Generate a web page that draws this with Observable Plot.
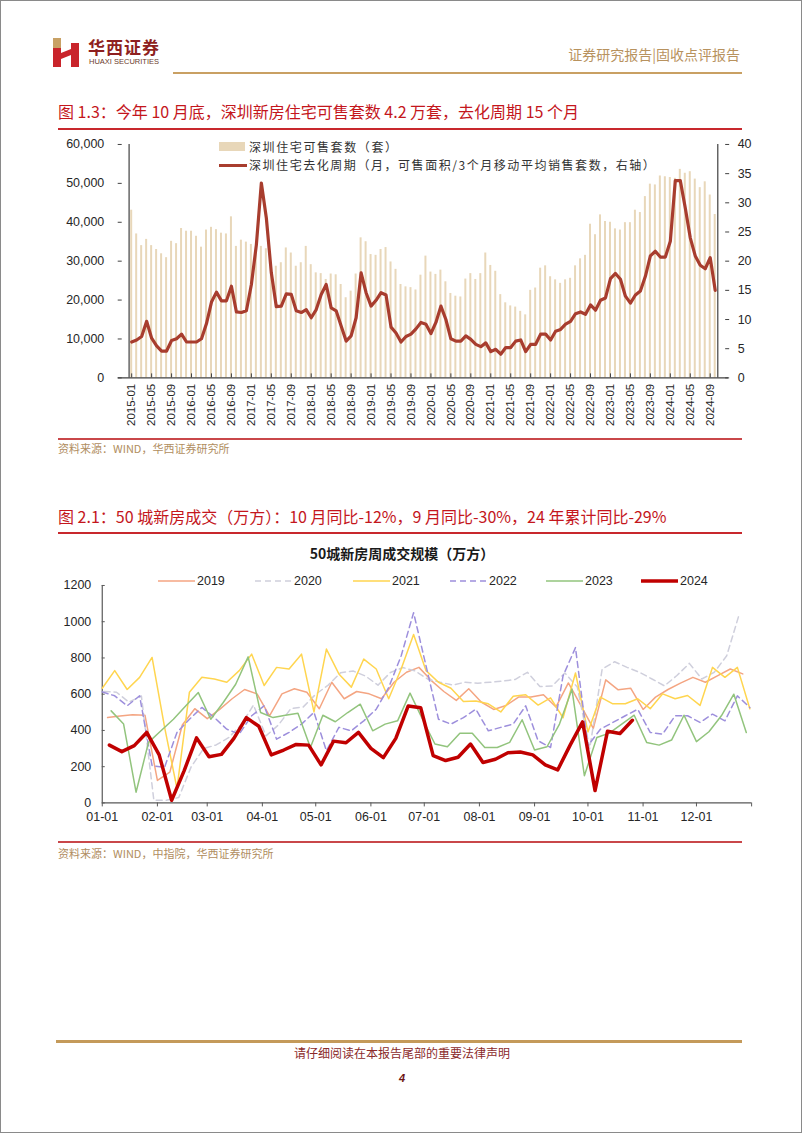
<!DOCTYPE html>
<html><head><meta charset="utf-8">
<script src="https://cdn.jsdelivr.net/npm/d3@7"></script>
<script src="https://cdn.jsdelivr.net/npm/@observablehq/plot@0.6"></script>
<style>
body{margin:0;background:#fff;}
#page{position:relative;width:802px;height:1133px;box-sizing:border-box;border:1px solid #8a8a8a;overflow:hidden;font-family:"Liberation Sans","Noto Sans CJK SC",sans-serif;background:#fff;}
.abs{position:absolute;white-space:nowrap;}
.hl{position:absolute;}
.cjk{font-family:"Noto Sans CJK SC","Liberation Sans",sans-serif;}
</style></head><body><div id="page">
<svg class="abs" style="left:52px;top:37px" width="28" height="30" viewBox="0 0 28 30">
  <rect x="0" y="0" width="8" height="10" fill="#c8a165"/>
  <rect x="0" y="10" width="8" height="19" fill="#c9242b"/>
  <polygon points="8,15 18,11 18,17 8,21" fill="#c9242b"/>
  <rect x="18" y="5" width="8" height="24" fill="#c9242b"/>
</svg>
<div class="abs cjk" style="left:87px;top:36px;font-size:17px;line-height:19px;font-weight:700;color:#8e1f20;letter-spacing:1px">华西证券</div>
<div class="abs" style="left:88px;top:56px;font-size:7.5px;line-height:9px;color:#6b3a2a;">HUAXI SECURITIES</div>
<div class="abs cjk" style="right:61px;top:45px;font-size:14px;line-height:16px;color:#b8925e;">证券研究报告|固收点评报告</div>
<div class="hl" style="left:172px;top:71px;width:569px;height:2px;background:#c9a063"></div>

<div class="abs cjk" style="left:57px;top:101px;font-size:16px;line-height:18px;color:#c4161c;">图 1.3：今年 10 月底，深圳新房住宅可售套数 4.2 万套，去化周期 15 个月</div>
<div class="hl" style="left:57px;top:127px;width:684px;height:1.5px;background:#c8282d"></div>

<div id="c1" class="abs" style="left:0;top:130px"></div>
<div class="hl" style="left:218px;top:141px;width:26px;height:9px;background:#e8d7b9"></div>
<div class="abs cjk" style="left:248px;top:138.5px;font-size:12px;line-height:14px;color:#333;letter-spacing:1.6px">深圳住宅可售套数（套）</div>
<div class="hl" style="left:218px;top:162.5px;width:28px;height:3px;background:#a83d2e"></div>
<div class="abs cjk" style="left:248px;top:157px;font-size:12px;line-height:14px;color:#333;letter-spacing:1.55px">深圳住宅去化周期（月，可售面积/3个月移动平均销售套数，右轴）</div>

<div class="hl" style="left:57px;top:437px;width:684px;height:1.5px;background:#c9474a"></div>
<div class="abs cjk" style="left:57px;top:441px;font-size:11px;line-height:13px;color:#b08d5e;">资料来源：WIND，华西证券研究所</div>

<div class="abs cjk" style="left:57px;top:506px;font-size:16px;line-height:18px;color:#c4161c;">图 2.1：50 城新房成交（万方）：10 月同比-12%，9 月同比-30%，24 年累计同比-29%</div>
<div class="hl" style="left:57px;top:531px;width:684px;height:1.5px;background:#c8282d"></div>
<div class="abs cjk" style="left:0;width:802px;text-align:center;top:544px;font-size:14px;line-height:16px;font-weight:700;color:#1a1a1a;">50城新房周成交规模（万方）</div>
<div id="lg2" class="abs" style="left:0;top:572px;width:802px;height:16px"></div>

<div id="c2" class="abs" style="left:0;top:575px"></div>
<div class="hl" style="left:57px;top:840px;width:684px;height:1.5px;background:#c9474a"></div>
<div class="abs cjk" style="left:57px;top:846px;font-size:11px;line-height:13px;color:#b08d5e;">资料来源：WIND，中指院，华西证券研究所</div>

<div class="hl" style="left:55px;top:1039px;width:686px;height:3px;background:#c49a5a"></div>
<div class="abs cjk" style="left:0;width:802px;text-align:center;top:1045px;font-size:12px;line-height:14px;color:#8b2a2a;">请仔细阅读在本报告尾部的重要法律声明</div>
<div class="abs" style="left:0;width:802px;text-align:center;top:1071px;font-size:11px;line-height:13px;font-weight:700;font-style:italic;color:#6e1515;">4</div>
</div>
<script>
// ---------- Chart 1: Shenzhen inventory ----------
const months = [];
for (let y = 2015; y <= 2024; y++) for (let m = 1; m <= 12; m++) { if (y === 2024 && m > 10) break; months.push(`${y}-${String(m).padStart(2, "0")}`); }
const stockK = [43.1,37.0,34.0,35.6,34.0,33.0,31.9,30.9,35.1,34.5,38.4,37.7,
 37.7,36.4,33.6,38.0,38.7,38.1,37.2,37.0,41.4,33.8,35.4,34.9,
 34.3,33.6,33.8,33.2,28.5,28.7,29.6,33.4,32.1,28.7,29.6,33.8,
 29.1,27.0,26.8,25.3,26.7,26.5,24.0,20.6,22.3,26.7,36.0,35.0,
 31.7,31.5,33.0,33.5,29.8,27.9,24.0,23.4,23.2,22.6,26.4,31.3,
 27.2,26.6,27.7,24.7,21.7,21.0,20.8,25.4,26.8,25.3,26.8,32.1,
 28.9,27.4,21.4,19.3,18.5,18.2,17.1,16.2,22.5,23.1,28.2,28.8,
 26.0,25.2,24.3,25.2,25.6,28.8,30.6,31.5,39.5,36.8,41.9,40.2,
 40.0,38.3,38.0,39.9,39.9,43.1,42.5,46.6,49.8,49.6,51.9,51.7,
 51.5,51.3,53.6,52.6,53.0,51.1,48.9,50.4,47.0,42.0];
const cycle = [6.15,6.5,7.1,9.7,6.8,5.5,4.6,4.6,6.4,6.7,7.5,6.15,
 6.15,6.15,6.7,9.3,13.0,14.7,13.2,13.2,15.7,11.3,11.2,11.5,
 16.0,22.8,33.4,27.4,18.0,12.2,12.3,14.4,14.3,11.5,11.2,11.7,
 10.3,11.7,14.3,16.0,12.0,11.5,8.9,6.3,7.2,10.3,18.0,14.6,
 12.3,13.3,14.6,14.2,8.7,7.7,6.15,7.1,7.5,8.4,9.5,9.2,
 7.6,9.5,12.3,10.0,6.7,6.3,6.3,7.2,6.6,5.75,5.35,6.0,
 4.5,4.9,4.05,5.2,5.2,6.3,6.5,4.5,5.75,5.75,7.5,7.5,
 6.5,8.0,8.3,9.2,9.7,11.0,11.3,10.9,12.5,11.6,13.3,13.7,
 17.0,17.9,16.9,14.0,12.8,14.2,14.9,17.4,20.9,21.7,20.7,20.7,
 23.4,33.8,33.8,29.1,24.0,20.9,19.3,18.7,20.6,15.0];
const leftTicks = [0, 10000, 20000, 30000, 40000, 50000, 60000];
const rightTicks = [0, 5, 10, 15, 20, 25, 30, 35, 40];
const labelMonths = months.filter((_, i) => i % 4 === 0);
const RATIO = 60000 / 40;
const data1 = months.map((m, i) => ({m, stock: stockK[i] * 1000, cycle: cycle[i]}));

const W1 = 802, ML1 = 117, MR1 = 73;
const half1 = (W1 - ML1 - MR1) / months.length / 2;
const axisCol = "#404040";
const chart1 = Plot.plot({
  width: W1, height: 310, marginLeft: ML1, marginRight: MR1, marginTop: 13, marginBottom: 63,
  style: {fontFamily: "Liberation Sans, Arial, sans-serif", fontSize: "12px", color: "#262626", background: "transparent"},
  x: {type: "band", domain: months, padding: 0},
  y: {domain: [0, 60000]},
  marks: [
    Plot.barY(data1, {x: "m", y: "stock", fill: "#e8d7b9", insetLeft: 1.5, insetRight: 1.5}),
    Plot.line(data1, {x: "m", y: d => d.cycle * RATIO, stroke: "#a83d2e", strokeWidth: 3.2}),
    Plot.ruleY([0], {stroke: axisCol, strokeWidth: 1.2}),
    Plot.ruleX([months[0]], {stroke: axisCol, strokeWidth: 1.2, dx: -half1}),
    Plot.ruleX([months[months.length - 1]], {stroke: axisCol, strokeWidth: 1.2, dx: half1}),
    Plot.axisY(leftTicks, {anchor: "left", tickFormat: d3.format(","), tickSize: -4, tickPadding: 18, label: null, stroke: axisCol, fontSize: 12.5}),
    Plot.axisY(rightTicks.map(v => v * RATIO), {anchor: "right", tickFormat: d => String(d / RATIO), tickSize: -4, tickPadding: 13, label: null, stroke: axisCol, fontSize: 12.5}),
    Plot.axisX(labelMonths, {anchor: "bottom", tickRotate: -90, tickSize: -4, tickPadding: 10, label: null, fontSize: 11.5, stroke: axisCol})
  ]
});
document.getElementById("c1").append(chart1);

// ---------- Chart 2: 50-city weekly transactions ----------
const seriesYears = ["2019", "2020", "2021", "2022", "2023", "2024"];
const firstDay = {"2019": 3, "2020": 1, "2021": 0, "2022": 0, "2023": 5, "2024": 4};
const v2019 = [471,480,487,484,124,170,430,520,465,516,575,626,602,480,602,630,611,520,666,575,615,602,575,666,721,748,675,615,566,630,557,516,538,584,584,597,529,662,538,411,679,624,633,516,584,626,661,693,666,703,739,712];
const v2020 = [615,611,556,590,15,15,30,200,300,320,360,430,540,370,430,520,530,600,650,719,728,700,650,720,747,728,683,666,651,666,661,666,672,681,721,642,646,717,640,300,739,779,748,721,684,646,703,770,684,721,812,1040];
const v2021 = [633,730,626,693,803,420,80,611,693,684,666,730,821,648,748,739,821,502,849,712,639,794,739,575,739,930,730,666,633,560,562,547,502,589,597,540,580,470,717,392,584,547,547,575,520,602,575,593,538,748,693,748,520];
const v2022 = [613,591,536,591,206,196,389,462,527,471,407,380,481,536,352,389,435,500,288,417,398,453,517,637,811,1050,756,462,435,471,517,398,417,435,536,343,306,701,857,316,407,444,481,517,389,380,481,481,444,490,453,591,527];
const v2023 = [508,435,59,334,398,462,536,609,462,554,655,806,499,471,484,495,306,484,448,499,545,398,435,453,606,462,325,310,385,385,306,306,334,459,292,310,435,628,150,361,385,435,484,334,319,347,484,338,393,481,600,389];
const v2024 = [319,283,316,389,265,15,177,359,255,268,356,471,423,265,292,323,319,210,341,332,389,301,250,356,535,525,261,234,252,325,223,241,277,281,265,210,182,319,447,68,396,383,456];
const values2 = {"2019": v2019, "2020": v2020, "2021": v2021, "2022": v2022, "2023": v2023, "2024": v2024};
const styles2 = {
  "2019": {stroke: "#f4a582", strokeWidth: 1.5},
  "2020": {stroke: "#cfcfdc", strokeWidth: 1.5, strokeDasharray: "6,4"},
  "2021": {stroke: "#ffd54f", strokeWidth: 1.5},
  "2022": {stroke: "#9d8fdc", strokeWidth: 1.5, strokeDasharray: "6,4"},
  "2023": {stroke: "#92c47d", strokeWidth: 1.5},
  "2024": {stroke: "#c00000", strokeWidth: 3.5}
};
const monthStarts = [0, 31, 59, 90, 120, 151, 181, 212, 243, 273, 304, 334];
const monthLabels = ["01-01","02-01","03-01","04-01","05-01","06-01","07-01","08-01","09-01","10-01","11-01","12-01"];
const yTicks2 = [0, 200, 400, 600, 800, 1000, 1200];
const labelOf = new Map(monthStarts.map((d, i) => [d, monthLabels[i]]));
const rows2 = y => values2[y].map((v, k) => ({year: y, day: firstDay[y] + 7 * k, value: v}));
const axis2 = "#595959";
const chart2 = Plot.plot({
  width: 802, height: 255, marginLeft: 101, marginRight: 50, marginTop: 9, marginBottom: 28,
  style: {fontFamily: "Liberation Sans, Arial, sans-serif", fontSize: "12.5px", color: "#262626", background: "transparent"},
  x: {domain: [0, 365]},
  y: {domain: [0, 1200]},
  marks: [
    Plot.ruleX([0], {stroke: axis2, strokeWidth: 1.2}),
    Plot.ruleY([0], {stroke: axis2, strokeWidth: 1.2}),
    Plot.axisY(yTicks2, {tickSize: -3, tickPadding: 14, label: null, stroke: axis2, tickFormat: d => String(d)}),
    Plot.axisX([...monthStarts, 365], {tickSize: 4, tickPadding: 5, label: null, stroke: axis2, tickFormat: d => labelOf.get(d) ?? ""}),
    ...seriesYears.map(y => Plot.line(rows2(y), {x: "day", y: "value", ...styles2[y]}))
  ]
});
document.getElementById("c2").append(chart2);

// legend 2
const lg = document.getElementById("lg2");
const legendX = [157, 254, 352, 449, 545, 640];
seriesYears.forEach((y, i) => {
  const s = styles2[y];
  const item = document.createElement("div");
  item.className = "abs";
  item.style.cssText = `left:${legendX[i]}px;top:0;height:16px;display:flex;align-items:center;font-size:12.5px;color:#262626;`;
  item.innerHTML = `<svg width="38" height="16"><line x1="0" x2="37" y1="8" y2="8" stroke="${s.stroke}" stroke-width="${s.strokeWidth}" ${s.strokeDasharray ? `stroke-dasharray="${s.strokeDasharray}"` : ""}/></svg><span style="margin-left:1px">${y}</span>`;
  lg.append(item);
});
</script>
</body></html>
